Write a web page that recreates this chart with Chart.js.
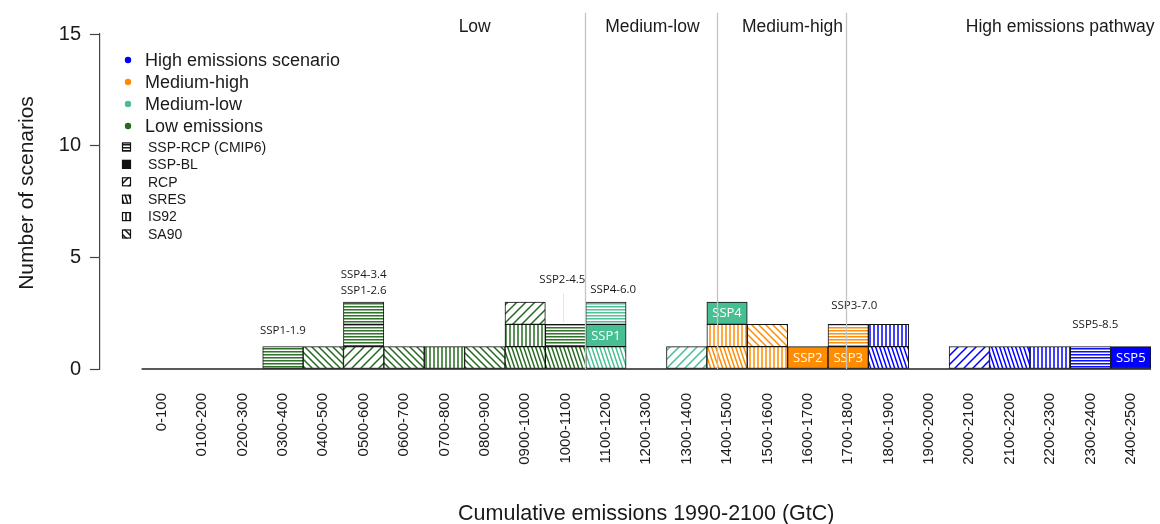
<!DOCTYPE html>
<html>
<head>
<meta charset="utf-8">
<script src="https://cdn.jsdelivr.net/npm/chart.js@4/dist/chart.umd.min.js"></script>
<style>
  html, body { margin: 0; padding: 0; background: #fff; }
  #wrap { width: 1160px; height: 524px; }
</style>
</head>
<body>
<div id="wrap"><canvas id="chart" width="1160" height="524"></canvas></div>
<script>
// Cumulative-emission bins (GtC, 1990-2100)
const bins = ['0-100', '0100-200', '0200-300', '0300-400', '0400-500', '0500-600', '0600-700',
  '0700-800', '0800-900', '0900-1000', '1000-1100', '1100-1200', '1200-1300', '1300-1400',
  '1400-1500', '1500-1600', '1600-1700', '1700-1800', '1800-1900', '1900-2000', '2000-2100',
  '2100-2200', '2200-2300', '2300-2400', '2400-2500'];

// One entry per scenario, listed bottom-up inside each bin
const scenarioBin = [3, 4, 5, 5, 5, 6, 7, 8, 9, 9, 9, 10, 10, 11, 11, 11, 13, 14, 14, 14,
  15, 15, 16, 17, 17, 18, 18, 20, 21, 22, 23, 24];
const scenarioCount = [1, 1, 1, 1, 1, 1, 1, 1, 1, 1, 1, 1, 1, 1, 1, 1, 1, 1, 1, 1,
  1, 1, 1, 1, 1, 1, 1, 1, 1, 1, 1, 1];
const scenarioGroup = ['low', 'low', 'low', 'low', 'low', 'low', 'low', 'low', 'low', 'low', 'low',
  'low', 'low', 'medlow', 'medlow', 'medlow', 'medlow', 'medhigh', 'medhigh', 'medlow',
  'medhigh', 'medhigh', 'medhigh', 'medhigh', 'medhigh', 'high', 'high', 'high', 'high',
  'high', 'high', 'high'];
const scenarioFamily = ['SSP-RCP', 'SA90', 'RCP', 'SSP-RCP', 'SSP-RCP', 'SA90', 'IS92', 'SA90',
  'SRES', 'IS92', 'RCP', 'SRES', 'SSP-RCP', 'SRES', 'SSP-BL', 'SSP-RCP', 'RCP', 'SRES', 'IS92',
  'SSP-BL', 'IS92', 'SA90', 'SSP-BL', 'SSP-BL', 'SSP-RCP', 'SRES', 'IS92', 'RCP', 'SRES', 'IS92',
  'SSP-RCP', 'SSP-BL'];
const scenarioTag = ['', '', '', '', '', '', '', '', '', '', '', '', '', '', 'SSP1', '', '', '', '',
  'SSP4', '', '', 'SSP2', 'SSP3', '', '', '', '', '', '', '', 'SSP5'];

// Emission groups (legend order)
const groupKeys = ['high', 'medhigh', 'medlow', 'low'];
const groupNames = ['High emissions scenario', 'Medium-high', 'Medium-low', 'Low emissions'];
const groupColors = ['#0000ff', '#ff8c00', '#48bf92', '#256b1f'];

// Scenario families (legend order)
const familyKeys = ['SSP-RCP', 'SSP-BL', 'RCP', 'SRES', 'IS92', 'SA90'];
const familyNames = ['SSP-RCP (CMIP6)', 'SSP-BL', 'RCP', 'SRES', 'IS92', 'SA90'];

// Named SSP-RCP pathways written above the bars: text, bin position, height
const noteText = ['SSP1-1.9', 'SSP1-2.6', 'SSP4-3.4', 'SSP2-4.5', 'SSP4-6.0', 'SSP3-7.0', 'SSP5-8.5'];
const noteBin = [3, 5, 5, 9.92, 11.18, 17.15, 23.12];
const noteLevel = [1.7, 3.5, 4.2, 4.0, 3.55, 2.85, 2.0];

// Pathway bands along the top
const bandNames = ['Low', 'Medium-low', 'Medium-high', 'High emissions pathway'];
const bandCentres = [7.75, 12.15, 15.62, 22.25];
const bandEdges = [10.47, 13.74, 16.95];

const SANS = '"Liberation Sans", Arial, Helvetica, sans-serif';
const LABEL = '"Open Sans", "Noto Sans", sans-serif';
const INK = '#1a1a1a';

const canvas = document.getElementById('chart');
const ctx = canvas.getContext('2d');

// Hatch fills for each scenario family
function hatch(color, family) {
  if (family === 'SSP-BL') return color;
  const spec = { 'SSP-RCP': [4, 3], 'RCP': [9, 9], 'SRES': [4, 12], 'IS92': [4, 4], 'SA90': [7, 7] }[family];
  const w = spec[0], h = spec[1];
  const tile = document.createElement('canvas');
  tile.width = w; tile.height = h;
  const g = tile.getContext('2d');
  g.fillStyle = '#fff';
  g.fillRect(0, 0, w, h);
  g.fillStyle = color;
  g.strokeStyle = color;
  g.lineWidth = 1.5;
  if (family === 'SSP-RCP') {
    g.globalAlpha = 0.95; g.fillRect(0, 0, w, 1);
    g.globalAlpha = 0.5; g.fillRect(0, 1, w, 1);
    g.globalAlpha = 1;
  } else if (family === 'IS92') {
    g.beginPath(); g.moveTo(2, 0); g.lineTo(2, h); g.stroke();
  } else {
    g.beginPath();
    for (let k = -2; k <= 2; k++) {
      const x0 = k * w;
      if (family === 'RCP') { g.moveTo(x0 + 2 * w, -h); g.lineTo(x0 - w, 2 * h); }
      else { g.moveTo(x0 - w, -h); g.lineTo(x0 + 2 * w, 2 * h); }
    }
    g.stroke();
  }
  return ctx.createPattern(tile, 'repeat');
}

const colorOf = (key) => groupColors[groupKeys.indexOf(key)];

const datasets = scenarioBin.map((b, i) => ({
  label: scenarioTag[i] || scenarioFamily[i],
  data: [{ x: b, y: scenarioCount[i] }],
  backgroundColor: hatch(colorOf(scenarioGroup[i]), scenarioFamily[i]),
  borderColor: '#111',
  borderWidth: 1,
  borderSkipped: false,
  barPercentage: 1,
  categoryPercentage: 1,
  stack: 'all',
  tag: scenarioTag[i]
}));

const decorations = {
  id: 'decorations',
  beforeDatasetsDraw(chart) {
    const { ctx: c, scales: { x, y } } = chart;
    // baseline under the bins
    c.save();
    c.strokeStyle = '#222';
    c.lineWidth = 1.5;
    c.beginPath();
    c.moveTo(x.getPixelForValue(-0.5), y.getPixelForValue(0));
    c.lineTo(x.getPixelForValue(bins.length - 0.5), y.getPixelForValue(0));
    c.stroke();
    c.restore();
  },
  afterDatasetsDraw(chart) {
    const { ctx: c, scales: { x, y } } = chart;
    c.save();
    // labels inside the baseline bars
    c.font = '13px ' + LABEL;
    c.fillStyle = '#fff';
    c.textAlign = 'center';
    c.textBaseline = 'middle';
    chart.data.datasets.forEach((ds, i) => {
      if (!ds.tag) return;
      const el = chart.getDatasetMeta(i).data[0];
      c.fillText(ds.tag, el.x, (el.y + el.base) / 2 + 0.5);
    });

    // leader line for SSP2-4.5
    c.strokeStyle = '#e6e6e6';
    c.lineWidth = 1;
    c.beginPath();
    c.moveTo(x.getPixelForValue(9.95), y.getPixelForValue(3.4));
    c.lineTo(x.getPixelForValue(9.95), y.getPixelForValue(2.1));
    c.stroke();

    // pathway names above bars
    c.font = '11.5px ' + LABEL;
    c.fillStyle = INK;
    noteText.forEach((t, i) => {
      c.fillText(t, x.getPixelForValue(noteBin[i]), y.getPixelForValue(noteLevel[i]));
    });

    // band separators and band names
    c.strokeStyle = '#c4c4c4';
    c.lineWidth = 1.3;
    bandEdges.forEach((v) => {
      const px = Math.round(x.getPixelForValue(v)) + 0.5;
      c.beginPath();
      c.moveTo(px, y.getPixelForValue(15.95));
      c.lineTo(px, y.getPixelForValue(0));
      c.stroke();
    });
    c.font = '17.5px ' + SANS;
    c.fillStyle = INK;
    bandNames.forEach((t, i) => {
      c.fillText(t, x.getPixelForValue(bandCentres[i]), y.getPixelForValue(15.3));
    });

    // emission-group legend
    c.textAlign = 'left';
    c.font = '18px ' + SANS;
    groupNames.forEach((t, i) => {
      const cy = 60 + 22 * i;
      c.fillStyle = groupColors[i];
      c.beginPath();
      c.arc(128, cy, 3.2, 0, Math.PI * 2);
      c.fill();
      c.fillStyle = INK;
      c.fillText(t, 145, cy + 1);
    });

    // scenario-family legend
    c.font = '14px ' + SANS;
    familyNames.forEach((t, i) => {
      const cy = 147 + 17.4 * i;
      c.fillStyle = hatch('#111', familyKeys[i]);
      c.fillRect(122, cy - 4.5, 9, 9);
      c.strokeStyle = '#111';
      c.lineWidth = 1.2;
      c.strokeRect(122.5, cy - 4, 8, 8);
      c.fillStyle = INK;
      c.fillText(t, 148, cy + 1);
    });

    // axis titles
    c.textAlign = 'center';
    c.font = '21.5px ' + SANS;
    c.fillText('Cumulative emissions 1990-2100 (GtC)',
      (x.getPixelForValue(-0.5) + x.getPixelForValue(bins.length - 0.5)) / 2, 514);
    c.translate(27, 193);
    c.rotate(-Math.PI / 2);
    c.font = '21px ' + SANS;
    c.fillText('Number of scenarios', 0, 0);
    c.restore();
  }
};

new Chart(canvas, {
  type: 'bar',
  data: { datasets },
  options: {
    responsive: false,
    animation: false,
    devicePixelRatio: 1,
    layout: { padding: { top: 34, right: 9, left: 0, bottom: 0 } },
    plugins: { legend: { display: false }, tooltip: { enabled: false } },
    scales: {
      x: {
        type: 'linear',
        min: -1.53,
        max: 24.5,
        offset: false,
        stacked: true,
        afterBuildTicks(s) { s.ticks = bins.map((_, i) => ({ value: i })); },
        ticks: {
          autoSkip: false,
          minRotation: 90,
          maxRotation: 90,
          padding: 24,
          color: INK,
          font: { family: SANS, size: 15 },
          callback: (v) => bins[v]
        },
        grid: { display: false, drawTicks: false },
        border: { display: false },
        afterFit(s) { s.height = 155; s.paddingLeft = 0; s.paddingRight = 0; }
      },
      y: {
        min: 0,
        max: 15,
        stacked: true,
        ticks: { stepSize: 5, padding: 9, color: INK, font: { family: SANS, size: 20 } },
        grid: { drawOnChartArea: false, drawTicks: true, tickLength: 10, tickColor: '#444', tickWidth: 1.2 },
        border: { display: true, color: '#444', width: 1.2 },
        afterFit(s) { s.width = 100; s.paddingTop = 0; s.paddingBottom = 0; }
      }
    }
  },
  plugins: [decorations]
});
</script>
</body>
</html>
